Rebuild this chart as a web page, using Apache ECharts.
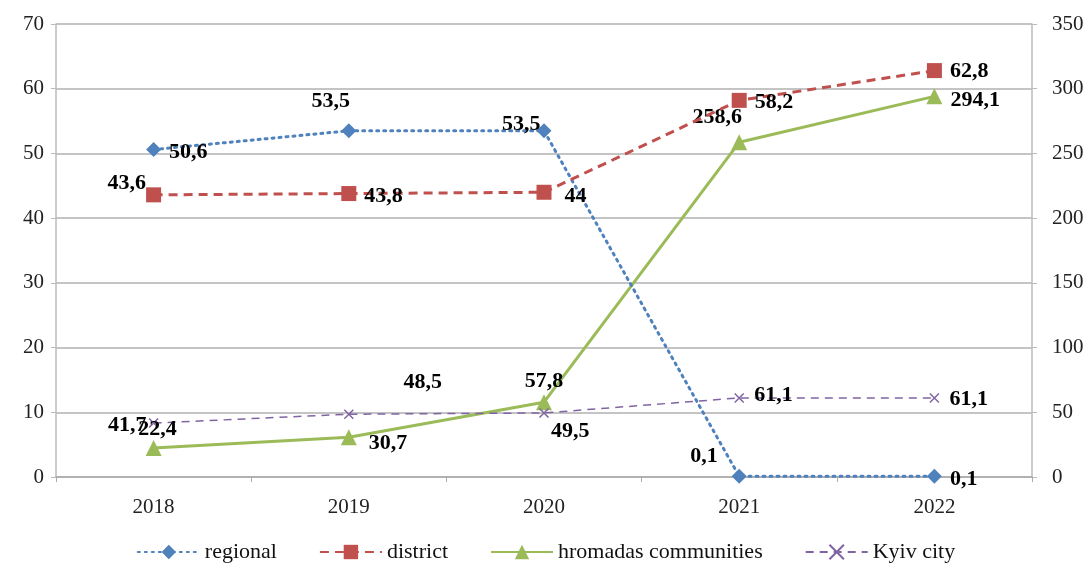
<!DOCTYPE html>
<html><head><meta charset="utf-8">
<script src="https://cdn.jsdelivr.net/npm/echarts@6/dist/echarts.min.js"></script>
<style>html,body{margin:0;padding:0;background:#fff}#c{width:1092px;height:568px}</style>
</head><body><div id="c"></div>
<script>
const years = ['2018','2019','2020','2021','2022'];
const regional = [50.6, 53.5, 53.5, 0.1, 0.1];
const district = [43.6, 43.8, 44, 58.2, 62.8];
const hromadas = [22.4, 30.7, 57.8, 258.6, 294.1];
const kyiv = [41.7, 48.5, 49.5, 61.1, 61.1];
const leftTicks = {min:0, max:70, interval:10};
const rightTicks = {min:0, max:350, interval:50};

// label placement [position, dx, dy]
const regLab = [['right',0,3],['top',-18,-3],['left',12,-6],['left',-6,-20],['right',0,3]];
const disLab = [['left',8,-12],['right',0,3],['right',5,4],['right',0,2],['right',0,1]];
const hroLab = [['top',4,8],['right',4,6],['top',0,6],['top',-22,2],['right',0,4]];
const kyiLab = [['left',8,2],['top',74,-6],['right',-8,18],['right',0,-3],['right',0,1]];

const fam = '"Liberation Serif","Times New Roman",serif';
const fmt = v => String(v).replace('.', ',');
function pts(vals, labs){
  return vals.map((v,i)=>({value:v, label:{position:labs[i][0], offset:[labs[i][1],labs[i][2]]}}));
}
const labelBase = {show:true, fontFamily:fam, fontSize:22, fontWeight:'bold', color:'#000', distance:8,
  formatter: p => fmt(p.value)};

const chart = echarts.init(document.getElementById('c'));
chart.setOption({
  animation:false,
  grid:{left:56, right:60, top:24, bottom:91},
  legend:{bottom:0, left:'center', itemWidth:62, itemHeight:18, itemGap:42,
    textStyle:{fontFamily:fam, fontSize:22, color:'#111'},
    data:['regional','district','hromadas communities','Kyiv city']},
  xAxis:{type:'category', data:years, boundaryGap:true,
    axisLine:{lineStyle:{color:'#aaa', width:1.5}},
    axisTick:{show:true, length:5, lineStyle:{color:'#aaa'}},
    axisLabel:{fontFamily:fam, fontSize:21, color:'#222', margin:20}},
  yAxis:[
    {type:'value', min:leftTicks.min, max:leftTicks.max, interval:leftTicks.interval,
     axisLine:{show:true, lineStyle:{color:'#bbb', width:1.5}},
     axisTick:{show:true, length:5, inside:false, lineStyle:{color:'#bbb'}},
     splitLine:{lineStyle:{color:'#b0b0b0', width:1.5}},
     axisLabel:{fontFamily:fam, fontSize:21, color:'#222', margin:12}},
    {type:'value', min:rightTicks.min, max:rightTicks.max, interval:rightTicks.interval, position:'right',
     axisLine:{show:true, lineStyle:{color:'#bbb', width:1.5}},
     axisTick:{show:true, length:5, lineStyle:{color:'#bbb'}},
     splitLine:{show:false},
     axisLabel:{fontFamily:fam, fontSize:21, color:'#222', margin:20}}
  ],
  series:[
    {name:'regional', type:'line', yAxisIndex:0, data:pts(regional, regLab),
     symbol:'diamond', symbolSize:15, z:4,
     lineStyle:{color:'#4F81BD', width:3, type:[2,5], cap:'round'},
     itemStyle:{color:'#4F81BD'}, label:labelBase},
    {name:'district', type:'line', yAxisIndex:0, data:pts(district, disLab),
     symbol:'rect', symbolSize:15, z:4,
     lineStyle:{color:'#C0504D', width:3, type:[9,6]},
     itemStyle:{color:'#C0504D'}, label:labelBase},
    {name:'hromadas communities', type:'line', yAxisIndex:1, data:pts(hromadas, hroLab),
     symbol:'triangle', symbolSize:16, z:3,
     lineStyle:{color:'#9BBB59', width:3},
     itemStyle:{color:'#9BBB59'}, label:labelBase},
    {name:'Kyiv city', type:'line', yAxisIndex:1, data:pts(kyiv, kyiLab),
     symbol:'path://M0,0L10,10M10,0L0,10', symbolSize:9, z:3,
     lineStyle:{color:'#8064A2', width:1.5, type:[8,6]},
     itemStyle:{color:'none', borderColor:'#8064A2', borderWidth:1.5}, label:labelBase}
  ]
});
</script></body></html>
